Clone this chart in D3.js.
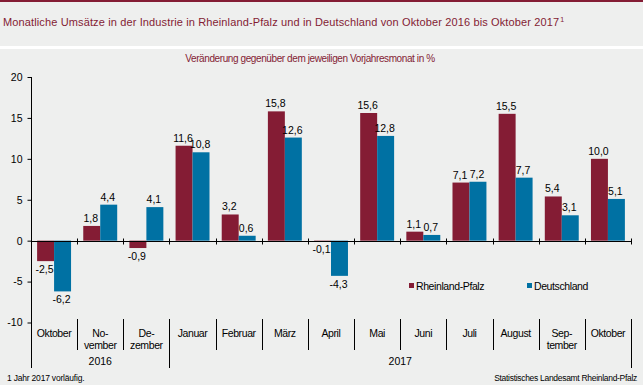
<!DOCTYPE html>
<html>
<head>
<meta charset="utf-8">
<script src="https://cdn.jsdelivr.net/npm/d3@7"></script>
<style>
body { margin:0; background:#eeefee; }
svg { display:block; font-family:"Liberation Sans", Arial, sans-serif; }
</style>
</head>
<body>
<script>
// Monate (zweizeilige Beschriftung mit Trennstrich)
var months = [["Oktober"], ["No-", "vember"], ["De-", "zember"], ["Januar"], ["Februar"], ["März"],
              ["April"], ["Mai"], ["Juni"], ["Juli"], ["August"], ["Sep-", "tember"], ["Oktober"]];
var rlp = [-2.5, 1.8, -0.9, 11.6, 3.2, 15.8, -0.1, 15.6, 1.1, 7.1, 15.5, 5.4, 10.0];
var de  = [-6.2, 4.4, 4.1, 10.8, 0.6, 12.6, -4.3, 12.8, 0.7, 7.2, 7.7, 3.1, 5.1];
var yTicks = [20, 15, 10, 5, 0, -5, -10];
var years = [{label: "2016", from: 0, to: 3}, {label: "2017", from: 3, to: 13}];
var series = [{key: "rlp", name: "Rheinland-Pfalz", color: "#841c34"},
              {key: "de", name: "Deutschland", color: "#0071a3"}];

var W = 643, H = 385;
var svg = d3.select("body").append("svg").attr("width", W).attr("height", H);

// Rahmen oben + Trennlinie
svg.append("rect").attr("x", 0).attr("y", 0).attr("width", W).attr("height", 2).attr("fill", "#841c34");
svg.append("rect").attr("x", 0).attr("y", 46).attr("width", W).attr("height", 3).attr("fill", "#ffffff");

var title = svg.append("text").attr("x", 3).attr("y", 26)
	.attr("font-size", 11).attr("fill", "#841c34").attr("letter-spacing", "0.13")
	.text("Monatliche Umsätze in der Industrie in Rheinland-Pfalz und in Deutschland von Oktober 2016 bis Oktober 2017");
title.append("tspan").attr("font-size", 7).attr("dy", -4).attr("dx", 1).text("1");

svg.append("text").attr("x", 310).attr("y", 62).attr("text-anchor", "middle")
	.attr("font-size", 10).attr("fill", "#841c34").attr("letter-spacing", "-0.4")
	.text("Veränderung gegenüber dem jeweiligen Vorjahresmonat in %");

var x0 = 31, x1 = 631;
var y = d3.scaleLinear().domain([-10, 20]).range([322.5, 77]);
var xb = d3.scaleBand().domain(d3.range(months.length)).range([x0, x1]).padding(0);
var xs = d3.scaleBand().domain(["rlp", "de"]).range([0, xb.bandwidth()]).paddingInner(0).paddingOuter(0.36);

var data = { rlp: rlp, de: de };
var fmt = function(d){ return d3.format(".1f")(d).replace(".", ",").replace("\u2212", "-"); };

// Balken
series.forEach(function(s){
	svg.append("g").selectAll("rect")
		.data(data[s.key])
		.enter()
		.append("rect")
		.attr("x", function(d, i){ return xb(i) + xs(s.key); })
		.attr("width", xs.bandwidth())
		.attr("y", function(d){ return y(Math.max(0, d)); })
		.attr("height", function(d){ return Math.abs(y(d) - y(0)); })
		.attr("fill", s.color);

	svg.append("g").selectAll("text")
		.data(data[s.key])
		.enter()
		.append("text")
		.attr("x", function(d, i){ return xb(i) + xs(s.key) + xs.bandwidth()/2 - 1; })
		.attr("y", function(d){ return d >= 0 ? y(d) - 4 : y(d) + 12; })
		.attr("text-anchor", "middle")
		.attr("font-size", 10.5)
		.attr("fill", "#000")
		.text(fmt);
});

// y-Achse
var yAxis = d3.axisLeft(y).tickValues(yTicks).tickSize(4).tickPadding(5)
	.tickFormat(function(d){ return d < 0 ? "-" + Math.abs(d) : d; });
var gy = svg.append("g").attr("transform", "translate(" + (x0 + 0.5) + ",0)").call(yAxis);
gy.select(".domain").remove();
gy.selectAll("text").attr("font-size", 10.5).attr("fill", "#000").attr("font-family", "Liberation Sans, Arial, sans-serif");
gy.selectAll("line").attr("stroke", "#000");
svg.append("line").attr("x1", x0 + 0.5).attr("x2", x0 + 0.5).attr("y1", 77).attr("y2", 368)
	.attr("stroke", "#000");

// Nulllinie mit Ticks
var zy = Math.round(y(0)) + 0.5;
svg.append("line").attr("x1", x0).attr("x2", x1 + 1).attr("y1", zy).attr("y2", zy).attr("stroke", "#000");
svg.append("g").selectAll("line")
	.data(d3.range(1, months.length + 1))
	.enter()
	.append("line")
	.attr("x1", function(i){ return Math.round(x0 + i * xb.step()) + 0.5; })
	.attr("x2", function(i){ return Math.round(x0 + i * xb.step()) + 0.5; })
	.attr("y1", zy - 3).attr("y2", zy + 3)
	.attr("stroke", "#000");

// Trennlinien Monate
svg.append("g").selectAll("line")
	.data(d3.range(1, months.length + 1))
	.enter()
	.append("line")
	.attr("x1", function(i){ return Math.round(x0 + i * xb.step()) + 0.5; })
	.attr("x2", function(i){ return Math.round(x0 + i * xb.step()) + 0.5; })
	.attr("y1", 319)
	.attr("y2", function(i){ return (i == 3 || i == months.length) ? 368 : 350; })
	.attr("stroke", "#000");

// Monatsbeschriftung
var ml = svg.append("g").selectAll("text")
	.data(months)
	.enter()
	.append("text")
	.attr("x", function(d, i){ return xb(i) + xb.bandwidth()/2; })
	.attr("y", 337)
	.attr("text-anchor", "middle")
	.attr("font-size", 10.5)
	.attr("letter-spacing", "-0.4")
	.attr("fill", "#000");
ml.selectAll("tspan")
	.data(function(d){ return d; })
	.enter()
	.append("tspan")
	.attr("x", function(){ return this.parentNode.getAttribute("x"); })
	.attr("dy", function(d, j){ return j == 0 ? 0 : 12; })
	.text(function(d){ return d; });

svg.append("g").selectAll("text")
	.data(years)
	.enter()
	.append("text")
	.attr("x", function(d){ return (x0 + d.from * xb.step() + x0 + d.to * xb.step()) / 2; })
	.attr("y", 365)
	.attr("text-anchor", "middle")
	.attr("font-size", 10.5)
	.attr("fill", "#000")
	.text(function(d){ return d.label; });

// Legende
var leg = svg.append("g").selectAll("g")
	.data(series)
	.enter()
	.append("g")
	.attr("transform", function(d, i){ return "translate(" + (409 + i * 118) + ",283)"; });
leg.append("rect").attr("width", 5).attr("height", 5).attr("y", 0).attr("fill", function(d){ return d.color; });
leg.append("text").attr("x", 7).attr("y", 6.5).attr("font-size", 10.5).attr("letter-spacing", "-0.4")
	.attr("fill", "#000").text(function(d){ return d.name; });

// Fußnote / Quelle
svg.append("text").attr("x", 7).attr("y", 381).attr("font-size", 8.5).attr("letter-spacing", "-0.2")
	.attr("fill", "#000").text("1 Jahr 2017 vorläufig.");
svg.append("text").attr("x", 637).attr("y", 381).attr("text-anchor", "end").attr("font-size", 8.5)
	.attr("letter-spacing", "-0.3").attr("fill", "#000").text("Statistisches Landesamt Rheinland-Pfalz");
</script>
</body>
</html>
